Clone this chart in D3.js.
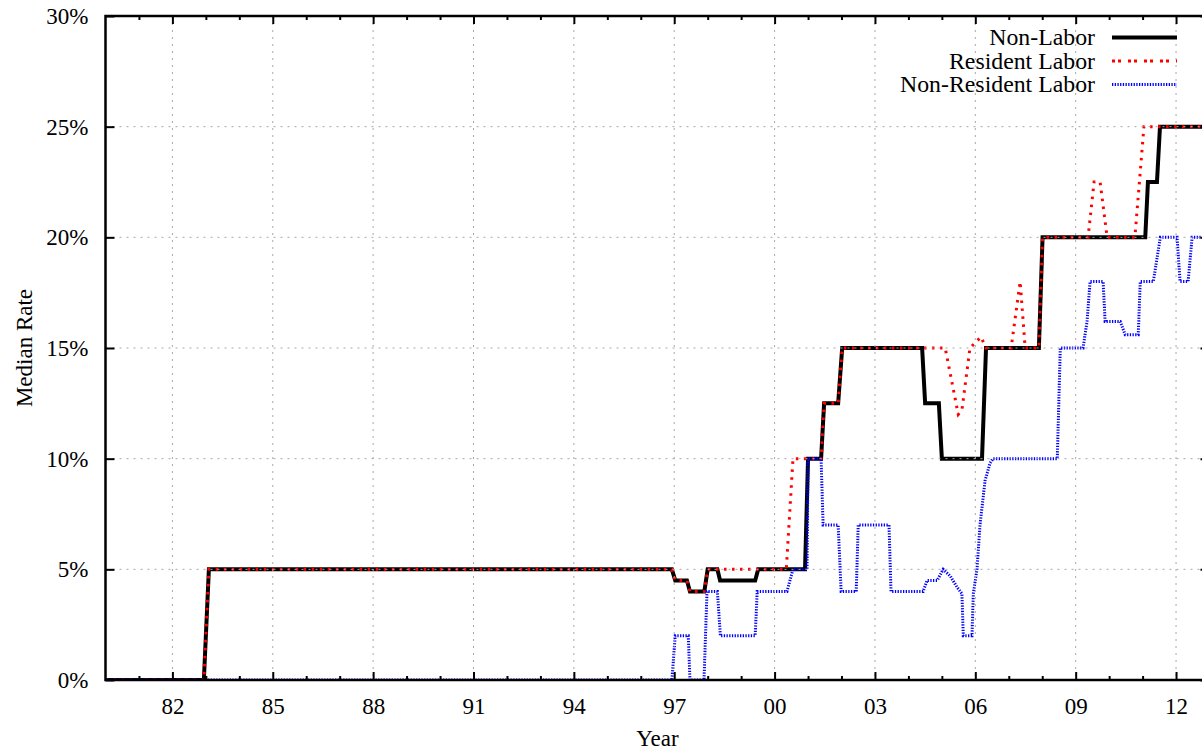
<!DOCTYPE html>
<html>
<head>
<meta charset="utf-8">
<script src="https://cdn.jsdelivr.net/npm/d3@7"></script>
<style>
  html, body { margin: 0; padding: 0; background: #fff; overflow: hidden; }
  text { font-family: "Liberation Serif", "Times New Roman", serif; fill: #000; }
</style>
</head>
<body>
<div id="chart"></div>
<script>
// [year, median rate %]
const nonLabor = [
  [1980, 0], [1982.94, 0], [1983.09, 5], [1996.93, 5], [1997.03, 4.5], [1997.38, 4.5],
  [1997.47, 4], [1997.9, 4], [1998.0, 5], [1998.29, 5], [1998.37, 4.5], [1999.42, 4.5],
  [1999.51, 5], [2000.91, 5], [2001.0, 10], [2001.39, 10], [2001.48, 12.5], [2001.9, 12.5],
  [2002.02, 15], [2004.41, 15], [2004.5, 12.5], [2004.91, 12.5], [2005.0, 10], [2006.2, 10],
  [2006.32, 15], [2007.9, 15], [2008.01, 20], [2011.08, 20], [2011.16, 22.5], [2011.43, 22.5],
  [2011.52, 25], [2013, 25]
];

const residentLabor = [
  [1980, 0], [1982.94, 0], [1983.09, 5], [1996.93, 5], [1997.03, 4.5], [1997.38, 4.5],
  [1997.47, 4], [1997.9, 4], [1998.0, 5], [2000.35, 5], [2000.55, 10], [2001.39, 10],
  [2001.48, 12.5], [2001.9, 12.5], [2002.02, 15], [2005.1, 15], [2005.49, 12], [2005.6, 12.2],
  [2005.84, 15], [2006.17, 15.5], [2006.32, 15], [2007.07, 15], [2007.34, 18], [2007.49, 15],
  [2007.9, 15], [2008.01, 20], [2009.37, 20], [2009.55, 22.5], [2009.73, 22.5], [2009.94, 20],
  [2010.77, 20], [2011.04, 25], [2013, 25]
];

const nonResidentLabor = [
  [1980, 0], [1996.93, 0], [1997.03, 2], [1997.42, 2], [1997.47, 0], [1997.89, 0],
  [1997.98, 4], [1998.29, 4], [1998.38, 2], [1999.42, 2], [1999.48, 4], [2000.37, 4],
  [2000.55, 5], [2000.97, 5], [2001.0, 10], [2001.39, 10], [2001.45, 7], [2001.9, 7],
  [2001.99, 4], [2002.44, 4], [2002.5, 7], [2003.42, 7], [2003.48, 4], [2004.44, 4],
  [2004.56, 4.5], [2004.86, 4.5], [2005.04, 5], [2005.25, 4.7], [2005.45, 4.2], [2005.6, 3.9],
  [2005.64, 2], [2005.9, 2], [2005.94, 3.9], [2006.05, 5], [2006.14, 7], [2006.29, 9],
  [2006.44, 9.8], [2006.53, 10], [2008.45, 10], [2008.54, 15], [2009.22, 15], [2009.34, 16.2],
  [2009.43, 18], [2009.82, 18], [2009.88, 16.2], [2010.33, 16.2], [2010.48, 15.6], [2010.87, 15.6],
  [2010.93, 18], [2011.32, 18], [2011.53, 20], [2012.03, 20], [2012.12, 18], [2012.36, 18],
  [2012.48, 20], [2013, 20]
];

const seriesNames = ["Non-Labor", "Resident Labor", "Non-Resident Labor"];
const xMajorTicks = [1982, 1985, 1988, 1991, 1994, 1997, 2000, 2003, 2006, 2009, 2012];
const xMinorTicks = d3.range(1981, 2013).filter(d => !xMajorTicks.includes(d));
const yTicks = [0, 5, 10, 15, 20, 25, 30];

const width = 1202, height = 753;
const plotLeft = 105.5, plotRight = 1209.5, plotTop = 16, plotBottom = 680;

const svg = d3.select("#chart")
  .append("svg")
  .attr("width", width)
  .attr("height", height);

const x = d3.scaleLinear().domain([1980, 2013]).range([plotLeft, plotRight]);
const y = d3.scaleLinear().domain([0, 30]).range([plotBottom, plotTop]);

svg.append("clipPath").attr("id", "plot-clip")
  .append("rect")
  .attr("x", plotLeft).attr("y", plotTop)
  .attr("width", plotRight - plotLeft).attr("height", plotBottom - plotTop);

// data lines, drawn in gnuplot order so blue ends up on top
const line = d3.line().x(d => x(d[0])).y(d => y(d[1]));

const styles = [
  { data: nonLabor, stroke: "#000", width: 4, dash: null, legendDash: null },
  { data: residentLabor, stroke: "#ff0000", width: 3, dash: "2.5,5.5", legendDash: "3,3,3,7" },
  { data: nonResidentLabor, stroke: "#0000ff", width: 3, dash: "1.3,1.4", legendDash: "1.3,1.4" }
];

const plot = svg.append("g").attr("clip-path", "url(#plot-clip)");

styles.forEach(s => {
  plot.append("path")
    .datum(s.data)
    .attr("d", line)
    .attr("fill", "none")
    .attr("stroke", s.stroke)
    .attr("stroke-width", s.width)
    .attr("stroke-dasharray", s.dash);
});

// grid sits in front of the lines, as in the picture
const grid = svg.append("g")
  .attr("stroke", "#a8a8a8")
  .attr("stroke-width", 1)
  .attr("stroke-dasharray", "2,5");

grid.selectAll(".vgrid")
  .data(xMajorTicks)
  .join("line")
  .attr("x1", d => x(d)).attr("x2", d => x(d))
  .attr("y1", plotTop).attr("y2", plotBottom);

grid.selectAll(".hgrid")
  .data(yTicks.slice(1, -1))
  .join("line")
  .attr("x1", plotLeft).attr("x2", plotRight)
  .attr("y1", d => y(d)).attr("y2", d => y(d));

// axes: bottom + left with labels, top + right mirrored ticks
function styleAxis(g) {
  g.select(".domain").remove();
  g.selectAll(".tick line").attr("stroke", "#000").attr("stroke-width", 2);
  g.selectAll(".tick text")
    .attr("fill", "#000")
    .attr("font-size", "23px")
    .attr("font-family", "Liberation Serif, serif");
}

svg.append("g")
  .attr("transform", `translate(0,${plotBottom})`)
  .call(d3.axisBottom(x)
    .tickValues(xMajorTicks)
    .tickSize(-8)
    .tickPadding(18)
    .tickFormat(d => String(d % 100).padStart(2, "0")))
  .call(styleAxis);

svg.append("g")
  .attr("transform", `translate(0,${plotBottom})`)
  .call(d3.axisBottom(x).tickValues(xMinorTicks).tickSize(-4).tickFormat(""))
  .call(styleAxis);

svg.append("g")
  .attr("transform", `translate(0,${plotTop})`)
  .call(d3.axisTop(x).tickValues(xMajorTicks).tickSize(-8).tickFormat(""))
  .call(styleAxis);

svg.append("g")
  .attr("transform", `translate(0,${plotTop})`)
  .call(d3.axisTop(x).tickValues(xMinorTicks).tickSize(-4).tickFormat(""))
  .call(styleAxis);

svg.append("g")
  .attr("transform", `translate(${plotLeft},0)`)
  .call(d3.axisLeft(y)
    .tickValues(yTicks)
    .tickSize(-9)
    .tickPadding(17)
    .tickFormat(d => d + "%"))
  .call(styleAxis);

svg.append("g")
  .attr("transform", `translate(${plotRight},0)`)
  .call(d3.axisRight(y).tickValues(yTicks).tickSize(-9).tickFormat(""))
  .call(styleAxis);

// frame
svg.append("rect")
  .attr("x", plotLeft).attr("y", plotTop)
  .attr("width", plotRight - plotLeft).attr("height", plotBottom - plotTop)
  .attr("fill", "none")
  .attr("stroke", "#000")
  .attr("stroke-width", 2.5);

// axis titles
svg.append("text")
  .attr("x", (plotLeft + plotRight) / 2)
  .attr("y", 746)
  .attr("text-anchor", "middle")
  .attr("font-size", "23px")
  .text("Year");

svg.append("text")
  .attr("transform", `translate(32,${(plotTop + plotBottom) / 2}) rotate(-90)`)
  .attr("text-anchor", "middle")
  .attr("font-size", "23px")
  .text("Median Rate");

// legend, top right
const legend = svg.append("g");
const legendRows = [37.5, 61, 84.5];

styles.forEach((s, i) => {
  legend.append("text")
    .attr("x", 1095)
    .attr("y", legendRows[i])
    .attr("dy", "0.32em")
    .attr("text-anchor", "end")
    .attr("font-size", "23.8px")
    .text(seriesNames[i]);

  legend.append("line")
    .attr("x1", 1112).attr("x2", 1177)
    .attr("y1", legendRows[i]).attr("y2", legendRows[i])
    .attr("stroke", s.stroke)
    .attr("stroke-width", s.width)
    .attr("stroke-dasharray", s.legendDash);
});
</script>
</body>
</html>
